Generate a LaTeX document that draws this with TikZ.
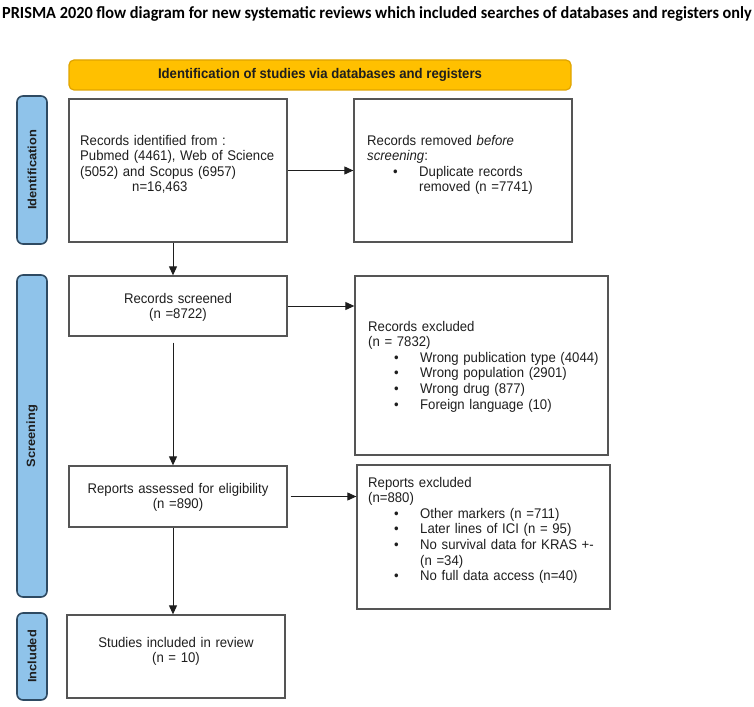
\documentclass[tikz,border=0pt]{standalone}
\usepackage{fontspec}
\setmainfont[FakeStretch=0.94]{Liberation Sans}
\newfontfamily\titlefont[FakeStretch=0.957]{Carlito}
\newfontfamily\lblfont[FakeStretch=1.07]{Liberation Sans}
\usetikzlibrary{positioning,calc,arrows.meta}
\definecolor{hdrfill}{HTML}{FFC000}
\definecolor{hdrline}{HTML}{E0A400}
\definecolor{lblfill}{HTML}{8FC3EA}
\definecolor{lblline}{HTML}{2E4A62}
\definecolor{boxline}{HTML}{555555}
\definecolor{ink}{HTML}{1E1E1E}
\tikzset{>={Triangle[length=9pt,width=8pt]}}
\tikzset{
  box/.style={draw=boxline,line width=1.3pt,minimum width=#1,inner sep=0pt},
  lbl/.style={draw=lblline,fill=lblfill,line width=1.6pt,rounded corners=6pt,rotate=90,
    minimum width=#1,minimum height=30pt,inner sep=0pt,font=\lblfont\bfseries\fontsize{12}{14}\selectfont,text=ink},
  txt/.style={inner sep=0pt,text width=#1,align=left,anchor=base west,text=ink,
    font=\fontsize{14}{15.6}\selectfont},
  ctxt/.style={txt=#1,align=center,anchor=base},
  link/.style={->,line width=1pt,draw=ink}
}
\newcommand\itm[1]{\hspace*{26pt}\makebox[26pt][l]{\textbullet}#1}
\newcommand\itc[1]{\hspace*{52pt}#1}

\begin{document}
\begin{tikzpicture}[x=1pt,y=-1pt]
\useasboundingbox (0,0) rectangle (754,706);
\node[anchor=base,font=\titlefont\bfseries\fontsize{17}{18}\selectfont] (ttl) at (377,19)
  {PRISMA 2020 flow diagram for new systematic reviews which included searches of databases and registers only};
\node[draw=hdrline,fill=hdrfill,line width=1.2pt,rounded corners=5pt,minimum width=502pt,minimum height=30pt,
  inner sep=0pt,font=\bfseries\fontsize{14}{15}\selectfont,text=ink] (hdr) at (320,75)
  {Identification of studies via databases and registers};
\node[lbl=148pt] (lid) at (32,170) {Identification};
\node[lbl=322pt] (lsc) at (32,436) {Screening};
\node[lbl=87pt] (lin) at (32,656.5) {Included};
\node[box=218pt,minimum height=143pt] (idf) at (178,170.5) {};
\node[box=218pt,minimum height=143pt] (rem) at (463,170.5) {};
\node[box=218pt,minimum height=60pt] (scr) at (178,306) {};
\node[box=253pt,minimum height=179pt] (exc) at (481.5,365.5) {};
\node[box=218pt,minimum height=61pt] (ass) at (178,496.5) {};
\node[box=253pt,minimum height=144pt] (rep) at (483.5,537) {};
\node[box=218pt,minimum height=83pt] (inc) at (176,656.5) {};
\node[txt=230pt] (idft) at (80,145) {Records identified from :\\Pubmed (4461), Web of Science\\(5052) and Scopus (6957)\\\hspace*{52pt}n=16,463};
\node[txt=230pt] (remt) at (367,145) {Records removed \textit{before}\\\textit{screening}:\\\itm{Duplicate records}\\\itc{removed (n =7741)}};
\node[ctxt=218pt] (scrt) at (178,303) {Records screened\\(n =8722)};
\node[txt=260pt] (exct) at (368,331) {Records excluded\\(n = 7832)\\\itm{Wrong publication type (4044)}\\\itm{Wrong population (2901)}\\\itm{Wrong drug (877)}\\\itm{Foreign language (10)}};
\node[ctxt=218pt] (asst) at (178,493) {Reports assessed for eligibility\\(n =890)};
\node[txt=260pt] (rept) at (368,487) {Reports excluded\\(n=880)\\\itm{Other markers (n =711)}\\\itm{Later lines of ICI (n = 95)}\\\itm{No survival data for KRAS +-}\\\itc{(n =34)}\\\itm{No full data access (n=40)}};
\node[ctxt=218pt] (inct) at (176,647) {Studies included in review\\(n = 10)};
\draw[link] (idf.east) -- (rem.west);
\draw[link] ([xshift=-5pt]idf.south) -- ([xshift=-5pt]scr.north);
\draw[link] (scr.east) -- (scr.east -| exc.west);
\draw[link] ([xshift=-5pt,yshift=-6pt]scr.south) -- ([xshift=-5pt]ass.north);
\draw[link] ([xshift=3pt]ass.east) -- (ass.east -| rep.west);
\draw[link] ([xshift=-5pt]ass.south) -- ([xshift=-3pt]inc.north);
\end{tikzpicture}
\end{document}
